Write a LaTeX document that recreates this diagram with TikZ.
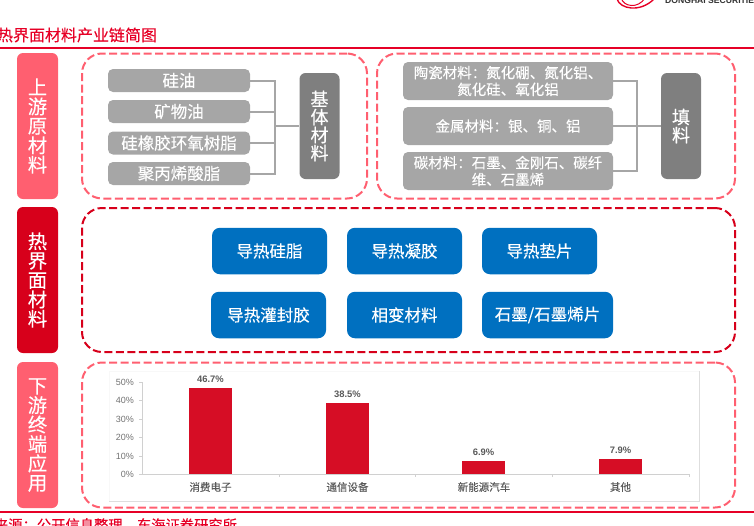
\documentclass[tikz,border=0pt]{standalone}
\usepackage{fontspec}
\setmainfont{Noto Sans CJK SC}[FakeBold=0.2]
\newfontfamily\latinfont{Liberation Sans}
\definecolor{tabpink}{HTML}{FF5F70}
\definecolor{tabred}{HTML}{D7001B}
\definecolor{barred}{HTML}{D60D25}
\definecolor{linered}{HTML}{E60026}
\definecolor{boxgray}{HTML}{A6A6A6}
\definecolor{basegray}{HTML}{7F7F7F}
\definecolor{boxblue}{HTML}{0070C0}
\definecolor{axisgray}{HTML}{D0D0D0}
\definecolor{labelgray}{HTML}{595959}
\tikzset{
  tab/.style={draw=none, rounded corners=6pt, inner sep=0pt, minimum width=41pt, minimum height=146pt, text=white, align=center, font=\fontsize{19.4}{19.4}\selectfont},
  zone/.style={rounded corners=20pt, dashed, dash pattern=on 8pt off 3.5pt, line width=2pt, inner sep=0pt},
  item/.style={fill=boxgray, rounded corners=5pt, inner sep=0pt, minimum width=142pt, minimum height=23pt, text=white, align=center, font=\fontsize{16.5}{16.5}\selectfont},
  filler/.style={item, minimum width=210pt, minimum height=38pt, font=\fontsize{14.5}{16.7}\selectfont},
  base/.style={fill=basegray, rounded corners=6pt, inner sep=0pt, minimum width=40pt, minimum height=106pt, text=white, align=center, font=\fontsize{18}{18}\selectfont},
  tim/.style={fill=boxblue, rounded corners=8pt, inner sep=0pt, minimum width=115pt, minimum height=46.5pt, text=white, font=\fontsize{16.5}{16.5}\selectfont},
  link/.style={draw=boxgray, line width=2pt},
  bar/.style={fill=barred, inner sep=0pt, minimum width=43pt, anchor=south},
  axislab/.style={text=labelgray!85, inner sep=0pt, anchor=east, font=\fontsize{9}{9}\latinfont},
  vallab/.style={text=labelgray, inner sep=0pt, font=\fontsize{9.4}{9.4}\latinfont\bfseries},
  catlab/.style={text=labelgray, inner sep=0pt, font=\fontsize{10.5}{10.5}\selectfont}
}
\begin{document}
\begin{tikzpicture}[x=1pt, y=-1pt]
\useasboundingbox (0,0) rectangle (754,525);
\clip (0,0) rectangle (754,525);
% header
\node[inner sep=0pt, text=linered, font=\fontsize{16}{16}\selectfont] (title) at (77,35) {热界面材料产业链简图};
\coordinate (ruleTopL) at (0,48);
\coordinate (ruleTopR) at (754,48);
\draw[linered, line width=1.2pt] (ruleTopL) -- (ruleTopR);
\node[inner sep=0pt, anchor=base west, text=black!80, font=\fontsize{8.6}{8.6}\latinfont\bfseries] (logo) at (665,3.5) {DONGHAI SECURITIES};
\draw[linered, line width=1.4pt] (617,-1) .. controls (620,9) and (640,13) .. (654,-1);
\draw[linered, line width=1pt] (621,-2) .. controls (624,7) and (638,9) .. (645,-2);
% left tabs
\node[tab, fill=tabpink] (upstream) at (37.5,126) {上\\游\\原\\材\\料};
\node[tab, fill=tabred] (tim) at (37.5,280) {热\\界\\面\\材\\料};
\node[tab, fill=tabpink] (downstream) at (37.5,435) {下\\游\\终\\端\\应\\用};
% dashed zones
\node[zone, draw=tabpink, minimum width=285pt, minimum height=145pt] (zoneBase) at (224.5,126) {};
\node[zone, draw=tabpink, minimum width=358pt, minimum height=145pt] (zoneFiller) at (556,126) {};
\node[zone, draw=tabred, minimum width=653pt, minimum height=144pt] (zoneTim) at (408.5,280) {};
\node[zone, draw=tabpink, minimum width=653pt, minimum height=145pt] (zoneApp) at (408.5,435) {};
% base materials
\node[item] (siliconeOil) at (179,80.5) {硅油};
\node[item] (mineralOil) at (179,111.5) {矿物油};
\node[item] (epoxy) at (179,143) {硅橡胶环氧树脂};
\node[item] (acrylate) at (179,173.5) {聚丙烯酸脂};
\node[base] (baseMat) at (319.5,126) {基\\体\\材\\料};
\coordinate (baseBus) at (275,126);
\draw[link] (siliconeOil.east) -| (baseBus);
\draw[link] (mineralOil.east) -| (baseBus);
\draw[link] (epoxy.east) -| (baseBus);
\draw[link] (acrylate.east) -| (baseBus);
\draw[link] (baseBus) -- (baseMat);
% fillers
\node[filler] (ceramic) at (508,81) {陶瓷材料：氮化硼、氮化铝、\\氮化硅、氧化铝};
\node[filler] (metal) at (508,126) {金属材料：银、铜、铝};
\node[filler] (carbon) at (508,171) {碳材料：石墨、金刚石、碳纤\\维、石墨烯};
\node[base] (fillerMat) at (681,126) {填\\料};
\coordinate (fillerBus) at (637,126);
\draw[link] (ceramic.east) -| (fillerBus);
\draw[link] (carbon.east) -| (fillerBus);
\draw[link] (metal) -- (fillerMat);
% thermal interface materials
\node[tim] (grease) at (269.5,251) {导热硅脂};
\node[tim] (gel) at (404.5,251) {导热凝胶};
\node[tim] (pad) at (539.5,251) {导热垫片};
\node[tim] (potting) at (268.5,315) {导热灌封胶};
\node[tim] (pcm) at (404.5,315) {相变材料};
\node[tim, minimum width=131pt] (graphite) at (547.5,315) {石墨/石墨烯片};
% chart
\coordinate (frameA) at (699,371);
\coordinate (frameB) at (699,501);
\coordinate (frameC) at (109,501);
\coordinate (frameD) at (109,371);
\draw[axisgray!15, line width=0.7pt] (frameC) -- (frameD) -- (frameA);
\draw[axisgray!70, line width=0.7pt] (frameA) -- (frameB) -- (frameC);
\coordinate (origin) at (142,474);
\coordinate (axisTop) at (142,382);
\coordinate (axisEnd) at (689,474);
\draw[axisgray, line width=0.8pt] (axisTop) -- (origin) -- (axisEnd);
\foreach \pct/\yy in {50/382,40/400,30/419,20/437,10/456,0/474}{
  \node[axislab] (tick\pct) at (134,\yy) {\pct\%};
  \draw[axisgray, line width=0.8pt] (139,\yy) -- (142,\yy);
}
\foreach \xx in {279,415,552,689}{
  \draw[axisgray, line width=0.8pt] (\xx,474) -- (\xx,477);
}
\node[bar, minimum height=86pt] (barA) at (210.5,474) {};
\node[bar, minimum height=71pt] (barB) at (347.5,474) {};
\node[bar, minimum height=13pt] (barC) at (483.5,474) {};
\node[bar, minimum height=14.5pt] (barD) at (620.5,474) {};
\node[vallab] (valA) at (210.5,379) {46.7\%};
\node[vallab] (valB) at (347.5,394) {38.5\%};
\node[vallab] (valC) at (483.5,452) {6.9\%};
\node[vallab] (valD) at (620.5,450) {7.9\%};
\node[catlab] (catA) at (210.5,487) {消费电子};
\node[catlab] (catB) at (347.5,487) {通信设备};
\node[catlab] (catC) at (484,487) {新能源汽车};
\node[catlab] (catD) at (620.5,487) {其他};
% footer
\coordinate (ruleBotL) at (0,512);
\coordinate (ruleBotR) at (754,512);
\draw[linered, line width=1.2pt] (ruleBotL) -- (ruleBotR);
\node[inner sep=0pt, text=linered, font=\fontsize{14.3}{14.3}\selectfont] (source) at (115.5,525) {来源：公开信息整理，东海证券研究所};
\end{tikzpicture}
\end{document}
